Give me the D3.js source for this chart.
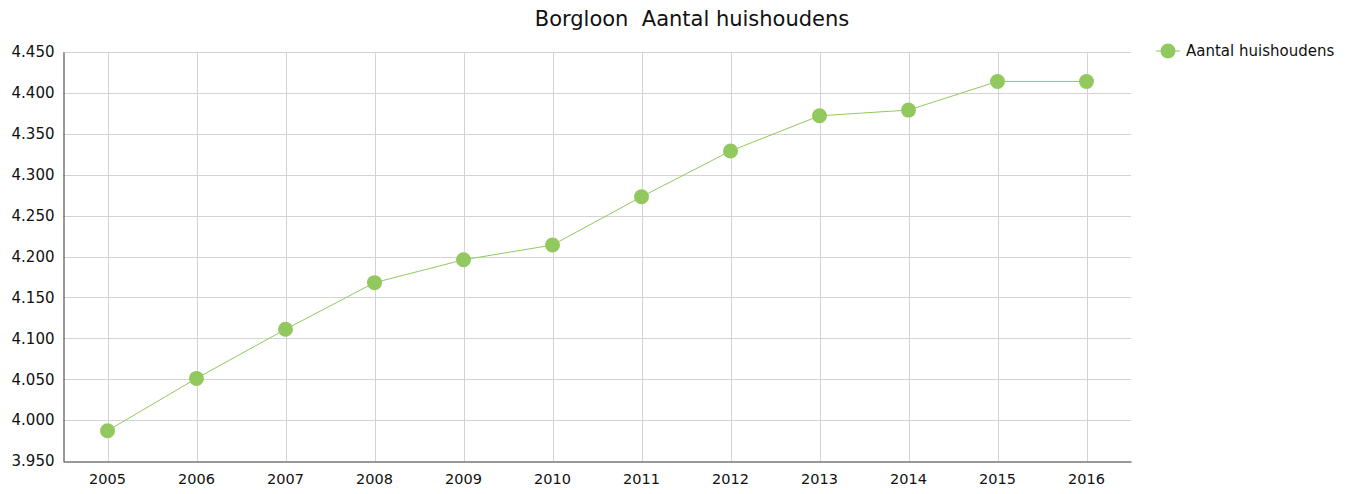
<!DOCTYPE html>
<html>
<head>
<meta charset="utf-8">
<script src="https://cdn.jsdelivr.net/npm/d3@7"></script>
<style>
    body { margin: 0; background: #fff; }
    svg text { font-family: "DejaVu Sans", Verdana, sans-serif; fill: #111; }
</style>
</head>
<body>
<div id="chart"></div>
<script>
var years = ["2005", "2006", "2007", "2008", "2009", "2010", "2011", "2012", "2013", "2014", "2015", "2016"];
var households = [3987, 4051, 4111, 4168, 4196, 4214, 4273, 4329, 4372, 4379, 4414, 4414];
var yTicks = [3950, 4000, 4050, 4100, 4150, 4200, 4250, 4300, 4350, 4400, 4450];
var seriesName = "Aantal huishoudens";
var title = "Borgloon  Aantal huishoudens";

var chart = (function () {
    var fmt = function (v) {
        return d3.format(",.3f")(v / 1000).replace(",", "");
    };
    return {
        draw: function (sel) {
            var W = 1352, H = 494,
                m = { left: 63, right: 221, top: 52, bottom: 33 },
                green = "#92c95e";
            var svg = d3.select(sel).append("svg").attr("width", W).attr("height", H);

            var x = d3.scaleBand().domain(years).range([m.left, W - m.right]);
            var y = d3.scaleLinear().domain([3950, 4450]).range([H - m.bottom, m.top]);
            var cx = function (d) { return x(d) + x.bandwidth() / 2; };

            // grid
            svg.append("g").selectAll("line").data(yTicks.slice(1)).enter().append("line")
                .attr("x1", m.left).attr("x2", W - m.right)
                .attr("y1", function (d) { return Math.round(y(d)) + 0.5; })
                .attr("y2", function (d) { return Math.round(y(d)) + 0.5; })
                .attr("stroke", "#d3d3d3");
            svg.append("g").selectAll("line").data(years).enter().append("line")
                .attr("x1", function (d) { return Math.round(cx(d)) + 0.5; })
                .attr("x2", function (d) { return Math.round(cx(d)) + 0.5; })
                .attr("y1", m.top).attr("y2", H - m.bottom)
                .attr("stroke", "#d3d3d3");

            // axes
            var ya = svg.append("g").attr("transform", "translate(" + (m.left + 0.5) + ",0)")
                .call(d3.axisLeft(y).tickValues(yTicks).tickFormat(fmt).tickSize(0).tickPadding(9));
            ya.select(".domain").attr("stroke", "#333");
            ya.selectAll("text").style("font-size", "15px");

            var xa = svg.append("g").attr("transform", "translate(0," + (H - m.bottom + 0.5) + ")")
                .call(d3.axisBottom(x).tickSize(0).tickPadding(12));
            xa.select(".domain").attr("stroke", "#333");
            xa.selectAll("text").style("font-size", "14.5px");

            // series
            var line = d3.line().x(function (d, i) { return cx(years[i]); }).y(function (d) { return y(d); });
            svg.append("path").datum(households).attr("d", line)
                .attr("fill", "none").attr("stroke", green).attr("stroke-width", 1);
            svg.append("g").selectAll("circle").data(households).enter().append("circle")
                .attr("cx", function (d, i) { return cx(years[i]); })
                .attr("cy", function (d) { return y(d); })
                .attr("r", 7.5).attr("fill", green);

            // title
            svg.append("text").attr("x", 692).attr("y", 26).attr("text-anchor", "middle")
                .style("font-size", "21px").style("white-space", "pre").text(title);

            // legend
            var lg = svg.append("g").attr("transform", "translate(1168,51)");
            lg.append("line").attr("x1", -12).attr("x2", 12).attr("stroke", green).attr("stroke-width", 1);
            lg.append("circle").attr("r", 7.5).attr("fill", green);
            lg.append("text").attr("x", 18).attr("dy", "0.35em").style("font-size", "15px").text(seriesName);
        }
    };
})();

chart.draw("#chart");
</script>
</body>
</html>
